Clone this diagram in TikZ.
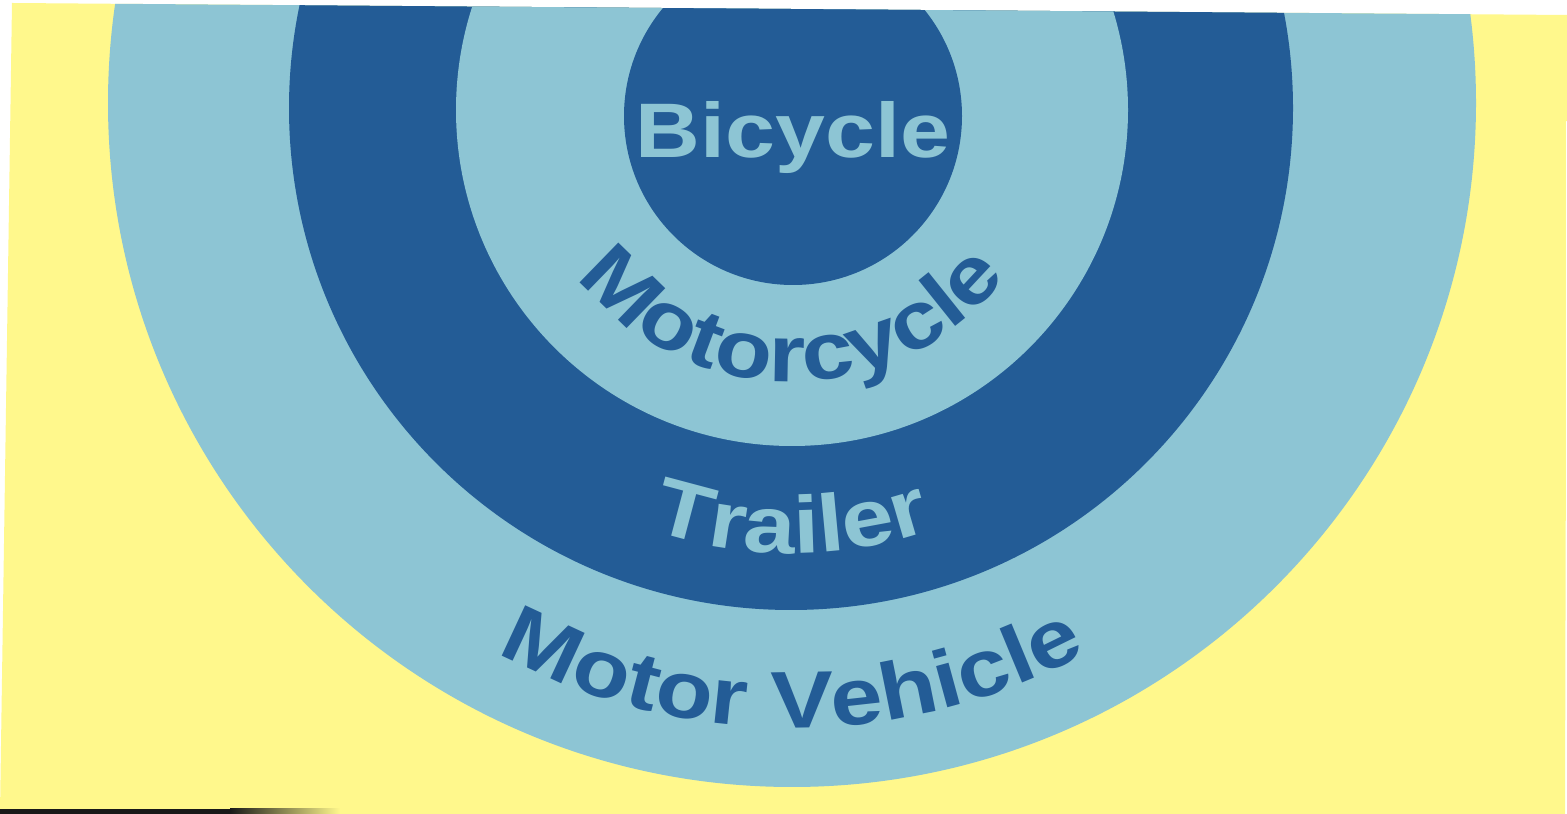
\documentclass[tikz,border=0pt]{standalone}
\usepackage{fontspec}
\setmainfont{Liberation Sans}
\newfontfamily\wheelfont[FakeStretch=1.16]{Liberation Sans}
\usetikzlibrary{calc,decorations.text}
\definecolor{paper}{RGB}{255,248,140}
\definecolor{ringlight}{RGB}{141,197,212}
\definecolor{ringdark}{RGB}{35,92,150}
\newcommand{\ringtext}{\wheelfont\bfseries\fontsize{23}{27}\selectfont}
\begin{document}
\begin{tikzpicture}[
  ring/.style={decorate, decoration={text along path, text align=center, text color=#1}}]
  \useasboundingbox (0,0) rectangle (15.67,8.14);
  \fill[white] (0,0) rectangle (15.67,8.14);
  \coordinate (c) at (7.92,7.02);
  % paper and rings, trimmed to the scanned sheet
  \begin{scope}
    \clip (0,0) -- (0.12,8.11) -- (15.67,7.99) -- (15.65,0) -- cycle;
    \fill[paper] (0,0) rectangle (15.67,8.14);
    \fill[ringlight] (7.92,7.11) circle[radius=6.84];
    \fill[ringdark] (7.91,7.06) circle[radius=5.02];
    \fill[ringlight] (7.92,7.04) circle[radius=3.36];
    \fill[ringdark] (7.93,6.98) circle[radius=1.69];
    \fill[black!90] (0,0) rectangle (2.3,0.05);
    \shade[left color=black!90, right color=paper] (2.3,0) rectangle (3.4,0.05);
  \end{scope}
  \node[font=\wheelfont\bfseries\fontsize{22}{26}\selectfont, text=ringlight, anchor=base, inner sep=0pt] (bicycle) at (7.93,6.56) {Bicycle};
  \path[ring=ringdark, decoration={text={|\ringtext|Motorcycle}}]
    ($(c)+(190:2.70)$) arc[start angle=190, end angle=350, radius=2.70];
  \path[ring=ringlight, decoration={text={|\ringtext|Trailer}}]
    ($(c)+(210:4.41)$) arc[start angle=210, end angle=330, radius=4.41];
  \path[ring=ringdark, decoration={text={|\ringtext|Motor Vehicle}}]
    ($(c)+(220:6.16)$) arc[start angle=220, end angle=320, radius=6.16];
\end{tikzpicture}
\end{document}
